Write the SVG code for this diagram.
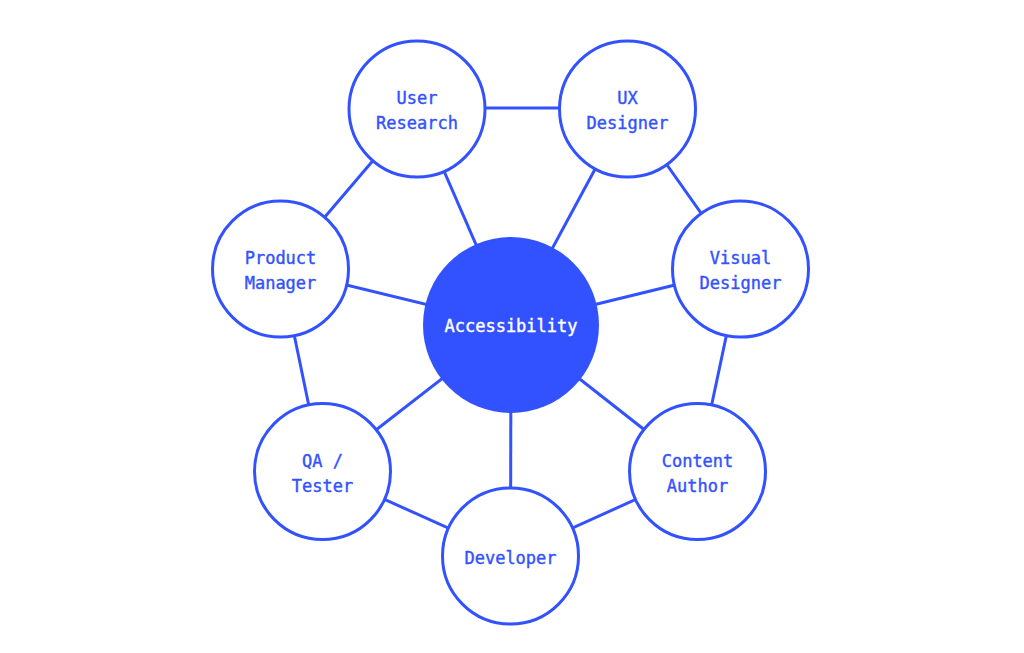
<svg xmlns="http://www.w3.org/2000/svg" width="1024" height="653" viewBox="0 0 1024 653">
<style>
.edge{stroke:#3352FF;stroke-width:3;fill:none}
.node{fill:#fff;stroke:#3352FF;stroke-width:3}
.hub{fill:#3352FF}
.lbl{font-family:"DejaVu Sans Mono","Liberation Mono",monospace;font-size:17px;fill:#3352FF;stroke:#3352FF;stroke-width:0.4;text-anchor:middle}
.hlbl{font-family:"DejaVu Sans Mono","Liberation Mono",monospace;font-size:17px;fill:#fff;stroke:#fff;stroke-width:0.4;text-anchor:middle}
</style>
<rect width="1024" height="653" fill="#fff"/>
<g id="connectors">
<line class="edge" x1="511" y1="325" x2="417" y2="109"/>
<line class="edge" x1="511" y1="325" x2="627.5" y2="109"/>
<line class="edge" x1="511" y1="325" x2="740.5" y2="269"/>
<line class="edge" x1="511" y1="325" x2="697.5" y2="471.5"/>
<line class="edge" x1="511" y1="325" x2="510.5" y2="556"/>
<line class="edge" x1="511" y1="325" x2="322.5" y2="471.5"/>
<line class="edge" x1="511" y1="325" x2="280.5" y2="269"/>
<line class="edge" x1="417" y1="108" x2="627.5" y2="108"/>
<line class="edge" x1="627.5" y1="109" x2="740.5" y2="269"/>
<line class="edge" x1="740.5" y1="269" x2="697.5" y2="471.5"/>
<line class="edge" x1="697.5" y1="471.5" x2="510.5" y2="556"/>
<line class="edge" x1="510.5" y1="556" x2="322.5" y2="471.5"/>
<line class="edge" x1="322.5" y1="471.5" x2="280.5" y2="269"/>
<line class="edge" x1="280.5" y1="269" x2="417" y2="109"/>
</g>
<g id="accessibility"><circle class="hub" cx="511" cy="325" r="88"/><text class="hlbl" x="511" y="332">Accessibility</text></g>
<g id="user-research"><circle class="node" cx="417" cy="109" r="68"/><text class="lbl" x="417" y="104">User</text><text class="lbl" x="417" y="129">Research</text></g>
<g id="ux-designer"><circle class="node" cx="627.5" cy="109" r="68"/><text class="lbl" x="627.5" y="104">UX</text><text class="lbl" x="627.5" y="129">Designer</text></g>
<g id="visual-designer"><circle class="node" cx="740.5" cy="269" r="68"/><text class="lbl" x="740.5" y="264">Visual</text><text class="lbl" x="740.5" y="289">Designer</text></g>
<g id="content-author"><circle class="node" cx="697.5" cy="471.5" r="68"/><text class="lbl" x="697.5" y="467">Content</text><text class="lbl" x="697.5" y="492">Author</text></g>
<g id="developer"><circle class="node" cx="510.5" cy="556" r="68"/><text class="lbl" x="510.5" y="564">Developer</text></g>
<g id="qa-tester"><circle class="node" cx="322.5" cy="471.5" r="68"/><text class="lbl" x="322.5" y="467">QA /</text><text class="lbl" x="322.5" y="492">Tester</text></g>
<g id="product-manager"><circle class="node" cx="280.5" cy="269" r="68"/><text class="lbl" x="280.5" y="264">Product</text><text class="lbl" x="280.5" y="289">Manager</text></g>
</svg>
